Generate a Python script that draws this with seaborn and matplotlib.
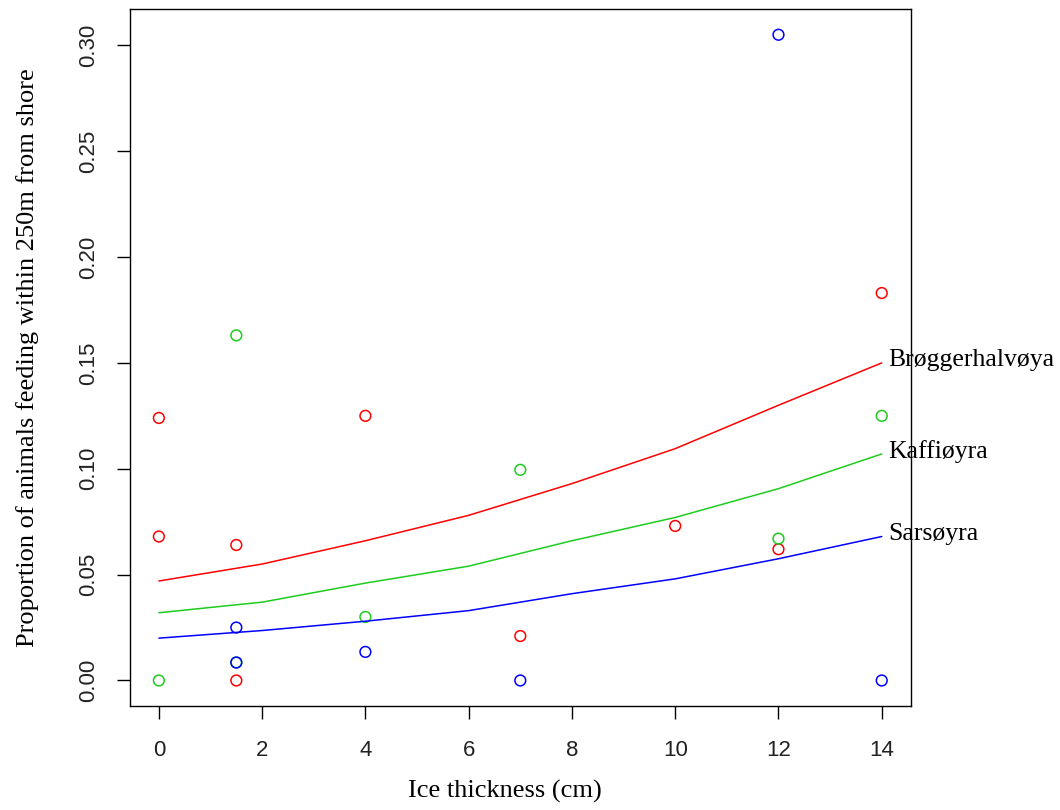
import numpy as np
import pandas as pd
import matplotlib
matplotlib.use("Agg")
import matplotlib.pyplot as plt
import seaborn as sns

# observed proportions per site
sites = ["Brøggerhalvøya", "Kaffiøyra", "Sarsøyra"]
site_colors = ["#FF0000", "#1ECC1E", "#0000FF"]

bro_x = [0, 0, 1.5, 1.5, 4, 7, 10, 12, 14]
bro_y = [0.124, 0.068, 0.064, 0.0, 0.125, 0.021, 0.073, 0.062, 0.183]
kaf_x = [0, 1.5, 1.5, 4, 7, 12, 14]
kaf_y = [0.0, 0.163, 0.0085, 0.030, 0.0995, 0.067, 0.125]
sar_x = [1.5, 1.5, 4, 7, 12, 14]
sar_y = [0.025, 0.0085, 0.0135, 0.0, 0.305, 0.0]

# fitted curves
fit_x = [0, 2, 4, 6, 8, 10, 12, 14]
bro_fit = [0.047, 0.055, 0.066, 0.078, 0.093, 0.1095, 0.130, 0.150]
kaf_fit = [0.032, 0.037, 0.046, 0.054, 0.066, 0.077, 0.0906, 0.107]
sar_fit = [0.020, 0.0236, 0.028, 0.033, 0.041, 0.048, 0.0575, 0.068]

x_ticks = [0, 2, 4, 6, 8, 10, 12, 14]
y_ticks = [0.00, 0.05, 0.10, 0.15, 0.20, 0.25, 0.30]

pts = pd.DataFrame({
    "ice": bro_x + kaf_x + sar_x,
    "prop": bro_y + kaf_y + sar_y,
    "site": [sites[0]] * len(bro_x) + [sites[1]] * len(kaf_x) + [sites[2]] * len(sar_x),
})
fits = pd.DataFrame({
    "ice": fit_x * 3,
    "prop": bro_fit + kaf_fit + sar_fit,
    "site": [s for s in sites for _ in fit_x],
})
pal = dict(zip(sites, site_colors))

sns.set_style("white")
serif = ["Liberation Serif", "DejaVu Serif"]
sans = ["Liberation Sans", "DejaVu Sans"]

fig = plt.figure(figsize=(10.6, 8.1), dpi=100)
ax = fig.add_axes([0.1226, 0.128, 0.7365, 0.861])

sns.lineplot(data=fits, x="ice", y="prop", hue="site", palette=pal, legend=False,
             linewidth=1.1, ax=ax)
sns.scatterplot(data=pts, x="ice", y="prop", hue="site", palette=pal, legend=False,
                marker="o", s=60, linewidth=1.1, ax=ax)
# seaborn fills circles; make them hollow
for coll in ax.collections:
    fc = coll.get_facecolors()
    coll.set_edgecolors(fc)
    coll.set_facecolors("none")

# site labels at the end of each curve
for s, fit in zip(sites, [bro_fit, kaf_fit, sar_fit]):
    ax.annotate(s, xy=(fit_x[-1], fit[-1]), xytext=(5, 2), textcoords="offset points",
                ha="left", va="center", fontsize=18.5, family=serif, color="black",
                annotation_clip=False)

ax.set_xlim(-0.56, 14.56)
ax.set_ylim(-0.0122, 0.3172)
ax.set_xticks(x_ticks)
ax.set_xticklabels([str(v) for v in x_ticks], family=sans, fontsize=16)
ax.set_yticks(y_ticks)
ax.set_yticklabels([f"{v:.2f}" for v in y_ticks], family=sans, fontsize=16,
                   rotation=90, va="center")
ax.tick_params(axis="both", direction="out", length=9.5, width=1, color="black",
               left=True, bottom=True, labelcolor="#222222")
ax.tick_params(axis="x", pad=15)
ax.tick_params(axis="y", pad=13)

for sp in ax.spines.values():
    sp.set_color("black")
    sp.set_linewidth(1)

ax.set_xlabel("Ice thickness (cm)", family=serif, fontsize=19, color="black")
ax.xaxis.set_label_coords(0.48, -0.105)
ax.set_ylabel("Proportion of animals feeding within 250m from shore", family=serif,
              fontsize=19, labelpad=28, color="black")
ax.grid(False)

fig.savefig("out.png", dpi=100)
